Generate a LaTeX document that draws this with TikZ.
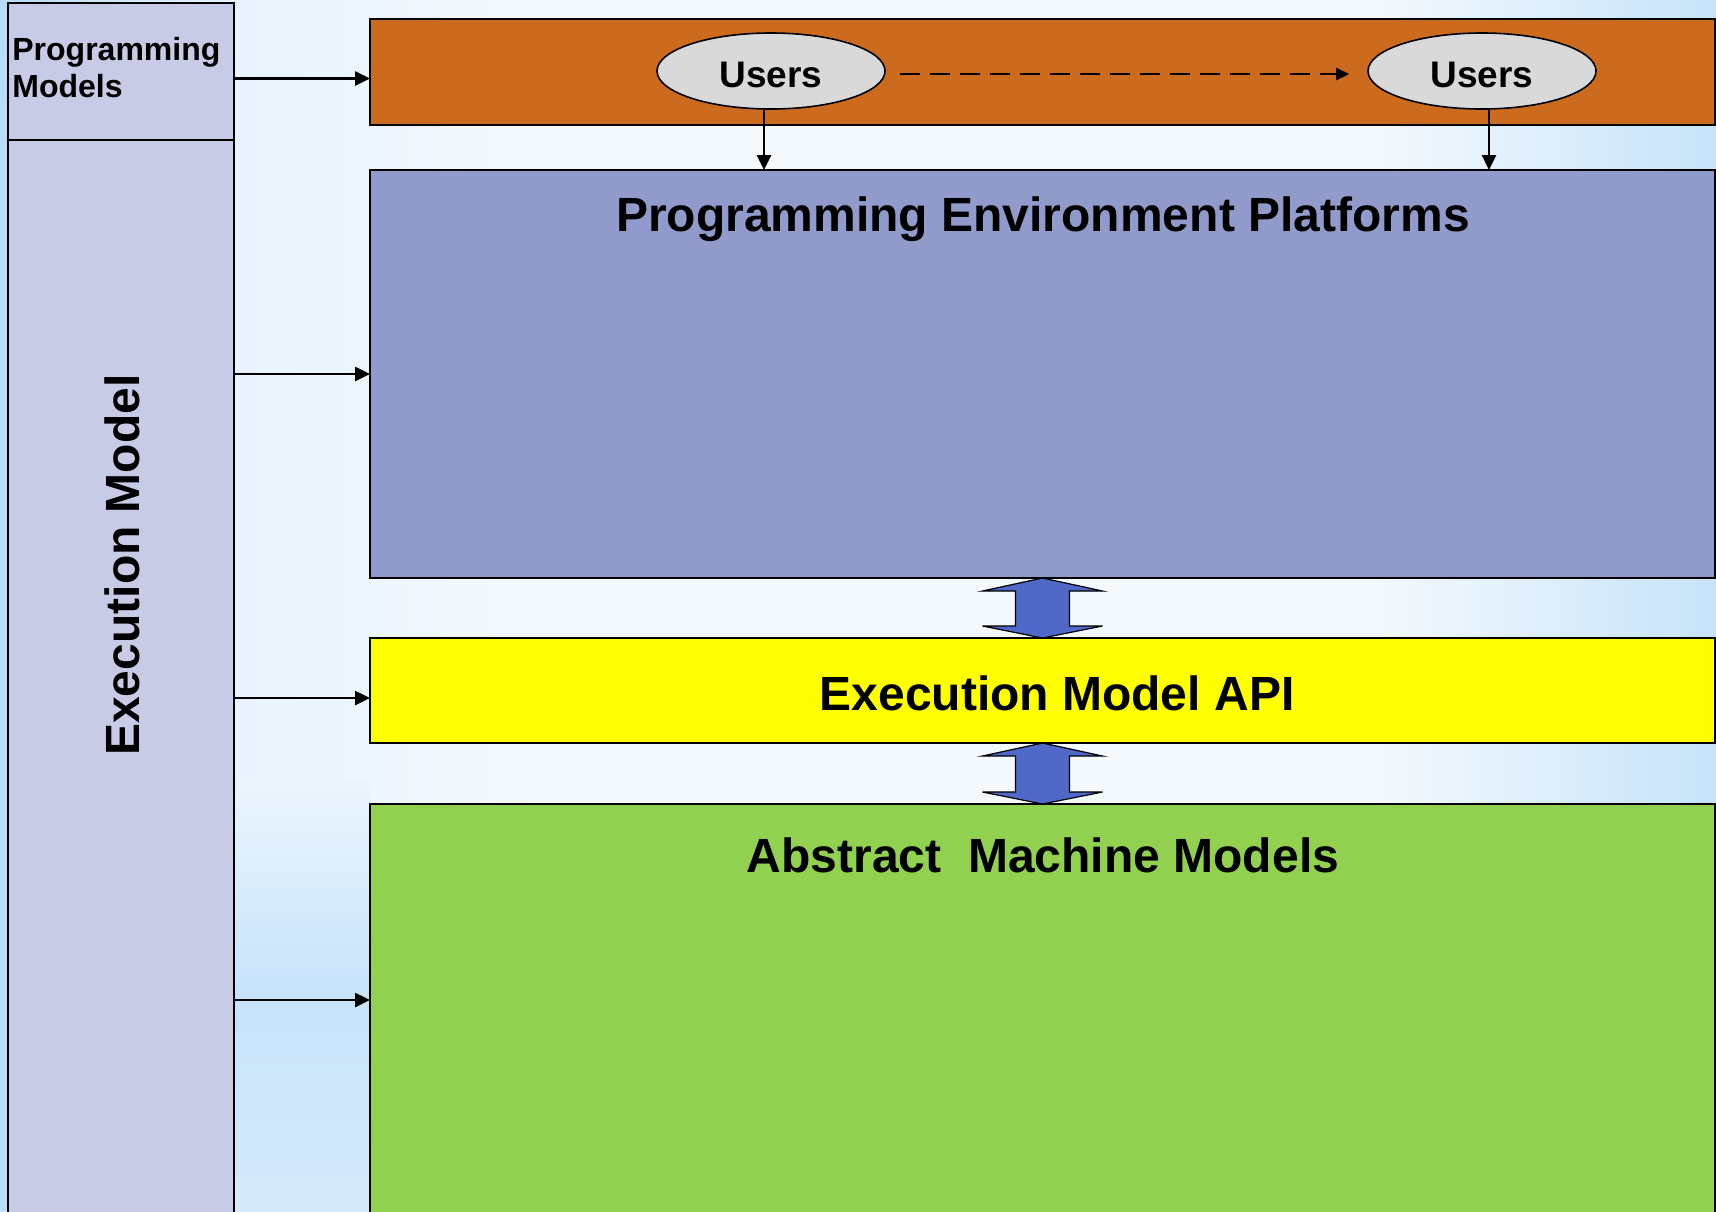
\documentclass[tikz,border=0pt]{standalone}
\usepackage{fontspec}
\setmainfont{Liberation Sans}
\usetikzlibrary{arrows.meta, positioning, calc, shapes.geometric}
\definecolor{bgblue}{RGB}{184,220,248}
\definecolor{bgpale}{RGB}{244,249,254}
\definecolor{colfill}{RGB}{200,203,230}
\definecolor{userbar}{RGB}{204,107,30}
\definecolor{envfill}{RGB}{145,155,203}
\definecolor{amfill}{RGB}{146,208,80}
\definecolor{apifill}{RGB}{255,255,0}
\definecolor{userfill}{RGB}{217,217,217}
\definecolor{linkfill}{RGB}{80,104,200}
\pgfdeclarehorizontalshading{backdrop}{100bp}{color(0bp)=(bgblue); color(25bp)=(bgblue); color(32bp)=(bgpale!80!bgblue); color(40bp)=(bgpale); color(65bp)=(bgpale); color(75bp)=(bgblue!75!bgpale); color(100bp)=(bgblue!75!bgpale)}
\newcommand{\bigfont}{\fontsize{24pt}{28pt}\selectfont\bfseries}
\newcommand{\twoway}[2]{%
  \path[twoway] (#1) -- ++(-60,13) -- ++(33,0) -- ($(#2)+(-27,-12)$) -- ++(-33,0)
    -- (#2) -- ++(60,-12) -- ++(-33,0) -- ($(#1)+(27,13)$) -- ++(33,0) -- cycle;}

\begin{document}
\begin{tikzpicture}[x=0.5pt, y=-0.5pt, every node/.style={font=\bfseries}]
  \tikzset{
    col/.style={draw, line width=0.8pt, fill=colfill, minimum width=113pt, inner sep=0pt, outer sep=0pt},
    layer/.style={draw, line width=1.2pt, minimum width=672.5pt, inner sep=0pt, outer sep=0pt},
    users/.style={ellipse, draw, line width=0.8pt, fill=userfill, minimum width=114pt, minimum height=38pt, inner ysep=0pt, text height=16.5pt, text depth=0pt, font=\fontsize{18.5pt}{20pt}\selectfont\bfseries},
    title/.style={font=\bigfont, inner sep=0pt},
    link/.style={line width=1.3pt, -{Triangle[length=7.5pt, width=7pt]}},
    twoway/.style={draw, line width=0.6pt, fill=linkfill, line join=miter}
  }
  \useasboundingbox (0,0) rectangle (1716,1211);
  \shade[shading=backdrop] (0,0) rectangle (1716,1211);
  \shade[top color=bgpale!85!bgblue, bottom color=bgblue!50!bgpale, middle color=bgblue!75!bgpale] (0,780) rectangle (370,1211);
  \fill[bgblue] (0,0) rectangle (8,1211);

  \node[col, anchor=north west, minimum height=68.5pt] (pm) at (8,3) {};
  \node[col, below=0pt of pm, minimum height=537.5pt] (em) {};
  \node[anchor=north west, align=left, inner sep=0pt, font=\fontsize{16pt}{18.5pt}\selectfont\bfseries] (pmt) at (12,37) {Programming\\Models};
  \node[title, rotate=90] (emt) at (122,565) {Execution Model};

  \node[layer, fill=userbar, anchor=north west, minimum height=53pt] (ub) at (370,19) {};
  \node[layer, fill=envfill, below=22.5pt of ub, minimum height=204pt] (peb) {};
  \node[layer, fill=apifill, below=30pt of peb, minimum height=52.5pt] (api) {};
  \node[layer, fill=amfill, below=30.5pt of api, minimum height=205pt] (amm) {};

  \node[title] (pept) at (1043,219) {Programming Environment Platforms};
  \node[title] (apit) at (1057,693) {Execution Model API};
  \node[title] (ammt) at (1043,855) {Abstract\ \ Machine Models};

  \node[users] (u1) at (771,71) {Users};
  \node[users] (u2) at (1482,71) {Users};

  \draw[line width=1.2pt, dash pattern=on 10pt off 5pt, shorten <=7pt, shorten >=9pt, -{Triangle[length=6.5pt, width=6pt]}] ([yshift=-1.5pt]u1.east) -- ([yshift=-1.5pt]u2.west);
  \draw[link] ([xshift=-3.5pt]u1.south) -- ([xshift=-3.5pt]u1.south |- peb.north);
  \draw[link] ([xshift=3.5pt]u2.south) -- ([xshift=3.5pt]u2.south |- peb.north);

  \draw[link] ([yshift=-3.5pt]pm.east) -- ([yshift=-3.5pt]pm.east -| ub.west);
  \draw[link] (em.east |- peb.west) -- (peb.west);
  \draw[link] ([yshift=-3.75pt]api.west -| em.east) -- ([yshift=-3.75pt]api.west);
  \draw[link] ([yshift=4.5pt]amm.west -| em.east) -- ([yshift=4.5pt]amm.west);

  \twoway{peb.south}{api.north}
  \twoway{api.south}{amm.north}
\end{tikzpicture}
\end{document}
